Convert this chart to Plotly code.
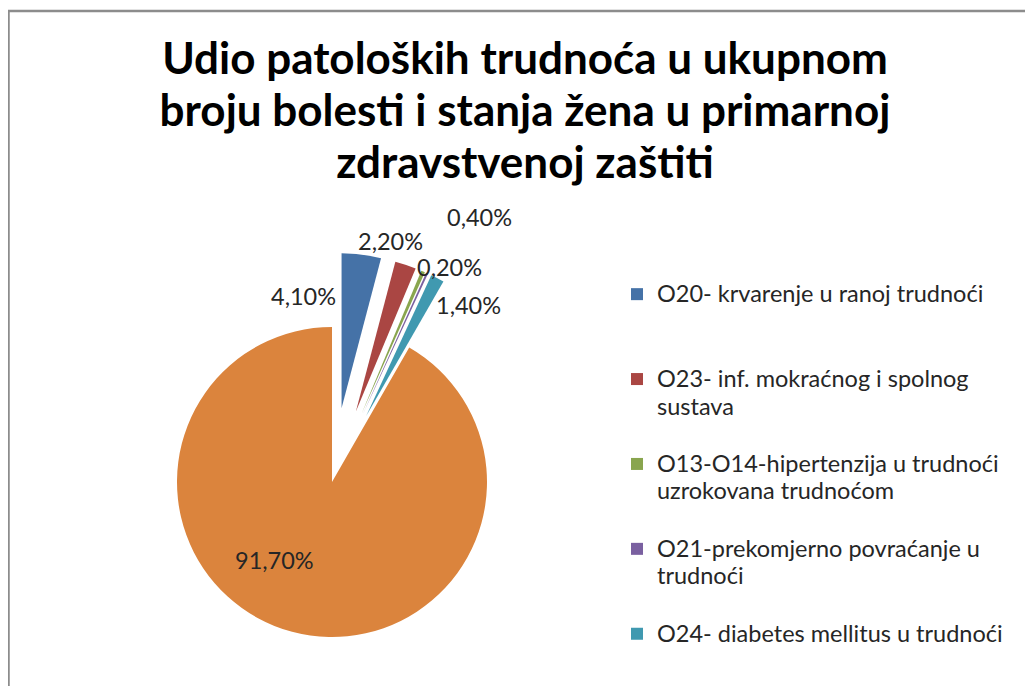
import math
import plotly.graph_objects as go

# ---------------- data ----------------
categories = [
    "O20- krvarenje u ranoj trudnoći",
    "O23- inf. mokraćnog i spolnog<br>sustava",
    "O13-O14-hipertenzija u trudnoći<br>uzrokovana trudnoćom",
    "O21-prekomjerno povraćanje u<br>trudnoći",
    "O24- diabetes mellitus u trudnoći",
    "Ostale bolesti i stanja žena",
]
values = [4.1, 2.2, 0.4, 0.2, 1.4, 91.7]
exploded = [True, True, True, True, True, False]
in_legend = [True, True, True, True, True, False]
title_lines = ["Udio patoloških trudnoća u ukupnom",
               "broju bolesti i stanja žena u primarnoj",
               "zdravstvenoj zaštiti"]

# ---------------- style / layout ----------------
colors = ["#4572A7", "#AA4643", "#89A54E", "#7A60A0", "#4099B0", "#DB843D"]
W, H = 1033, 686
SHIFT = 8                       # page body margin: screen px = figure px + SHIFT
CX, CY, R = 332 - SHIFT, 482 - SHIFT, 155   # pie centre / radius (figure px)
PULL = 0.48                     # explode distance as fraction of radius
# data-label anchor points (screen px) for each slice, in category order
label_pos_px = [(303, 296), (390, 241), (479, 217), (449, 267), (468, 305), (274, 560)]
FONT = "Lato"

label_text = [f"{v:.2f}%".replace(".", ",") for v in values]
total = sum(values)
TRANSPARENT = "rgba(0,0,0,0)"


def domain_for(cx, cy, r):
    return dict(x=[(cx - r) / W, (cx + r) / W],
                y=[1 - (cy + r) / H, 1 - (cy - r) / H])


def big(txt, size):
    return f'<span style="font-size:{size}px">{txt}</span>'


fig = go.Figure()

# legend carrier (tiny pie hidden beneath the big slice)
leg_idx = [i for i in range(len(values)) if in_legend[i]]
leg_labels = []
for k, i in enumerate(leg_idx):
    lines = [big(s, 23.5) for s in categories[i].split("<br>")]
    if k < len(leg_idx) - 1:
        lines += ["\u00a0"] * (3 - len(lines))
    leg_labels.append("<br>".join(lines))
fig.add_trace(go.Pie(
    labels=leg_labels,
    values=[values[i] for i in leg_idx],
    marker=dict(colors=[colors[i] for i in leg_idx]),
    sort=False, direction="clockwise", rotation=0,
    textinfo="none", hoverinfo="skip", showlegend=True,
    domain=domain_for(CX - 60, CY + 60, 0.4),
))

# one trace per slice so each exploded slice keeps the full radius
cum = 0.0
for i, v in enumerate(values):
    mid = (cum + v / 2) / total * 2 * math.pi
    cum += v
    dx = PULL * R * math.sin(mid) if exploded[i] else 0.0
    dy = -PULL * R * math.cos(mid) if exploded[i] else 0.0
    cols = [colors[j] if j == i else TRANSPARENT for j in range(len(values))]
    fig.add_trace(go.Pie(
        labels=categories, values=values,
        marker=dict(colors=cols, line=dict(width=0)),
        sort=False, direction="clockwise", rotation=0,
        textinfo="none", hoverinfo="label+percent",
        showlegend=False,
        domain=domain_for(CX + dx, CY + dy, R),
    ))

annotations = []
for i, t in enumerate(label_text):
    px, py = label_pos_px[i]
    annotations.append(dict(
        x=(px - SHIFT) / W, y=1 - (py - SHIFT) / H, xref="paper", yref="paper",
        text=t, showarrow=False, xanchor="center", yanchor="middle",
        font=dict(family=FONT, size=23.5, color="#262626"),
    ))

title_text = "<br>".join(big(s, 44) for s in title_lines)

fig.update_layout(
    width=W, height=H,
    margin=dict(l=0, r=0, t=0, b=0),
    paper_bgcolor="white", plot_bgcolor="white",
    title=dict(text=title_text, x=(525 - SHIFT) / W, xanchor="center",
               y=1 - 66 / H, yanchor="top", yref="container",
               font=dict(family=FONT, size=40, weight="bold", color="black")),
    legend=dict(x=609 / W, y=1 - 266 / H, xanchor="left", yanchor="top",
                valign="top", traceorder="normal",
                font=dict(family=FONT, size=21, color="#262626"),
                bgcolor="rgba(0,0,0,0)"),
    annotations=annotations,
    shapes=[dict(type="rect", xref="paper", yref="paper",
                 x0=0.5 / W, x1=1.05, y0=-0.05, y1=1 - 3 / H,
                 line=dict(color="#8C8C8C", width=2.5), layer="above")],
)

fig.write_html("out.html")
